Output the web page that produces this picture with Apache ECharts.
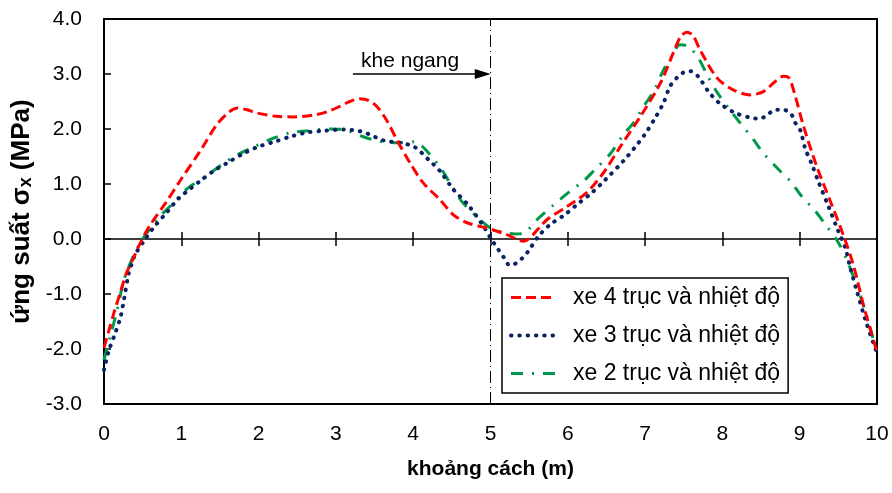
<!DOCTYPE html>
<html>
<head>
<meta charset="utf-8">
<script src="https://cdn.jsdelivr.net/npm/echarts@6/dist/echarts.min.js"></script>
<style>html,body{margin:0;padding:0;background:#fff;}#c{width:892px;height:493px;}</style>
</head>
<body>
<div id="c"></div>
<script>
// ---- data ----
var seriesNames = ['xe 4 trục và nhiệt độ', 'xe 3 trục và nhiệt độ', 'xe 2 trục và nhiệt độ'];
var yTickLabels = ['-3.0','-2.0','-1.0','0.0','1.0','2.0','3.0','4.0'];
var xTickLabels = ['0','1','2','3','4','5','6','7','8','9','10'];

var redX = [0, 0.06, 0.14, 0.21, 0.29, 0.37, 0.47, 0.6, 0.8, 0.98, 1.24, 1.46, 1.63, 1.73, 1.85, 1.98, 2.23, 2.45, 2.7, 2.9, 3.05, 3.18, 3.31, 3.42, 3.53, 3.66, 3.79, 3.96, 4.13, 4.35, 4.52, 4.69, 4.89, 5.0, 5.21, 5.43, 5.51, 5.73, 5.99, 6.24, 6.46, 6.68, 6.94, 7.2, 7.37, 7.46, 7.54, 7.62, 7.71, 7.93, 8.14, 8.36, 8.53, 8.68, 8.79, 8.86, 8.92, 9.05, 9.22, 9.39, 9.57, 9.7, 9.83, 10];
var redY = [-1.98, -1.68, -1.29, -0.98, -0.62, -0.38, -0.07, 0.26, 0.66, 1.05, 1.59, 2.08, 2.32, 2.38, 2.35, 2.29, 2.23, 2.22, 2.25, 2.32, 2.41, 2.5, 2.55, 2.52, 2.41, 2.15, 1.8, 1.38, 1.02, 0.71, 0.44, 0.3, 0.22, 0.18, 0.08, -0.04, 0.02, 0.35, 0.59, 0.84, 1.2, 1.68, 2.23, 2.84, 3.4, 3.68, 3.76, 3.7, 3.44, 2.93, 2.71, 2.62, 2.68, 2.86, 2.96, 2.93, 2.71, 2.05, 1.32, 0.71, 0.05, -0.5, -1.23, -2.05];

var navyX = [0, 0.06, 0.14, 0.21, 0.26, 0.32, 0.36, 0.4, 0.52, 0.66, 0.81, 0.96, 1.13, 1.24, 1.41, 1.59, 1.8, 1.98, 2.21, 2.43, 2.64, 2.86, 3.1, 3.31, 3.42, 3.62, 3.83, 4.02, 4.2, 4.35, 4.52, 4.71, 4.91, 5.0, 5.1, 5.17, 5.25, 5.32, 5.41, 5.49, 5.62, 5.77, 5.96, 6.14, 6.31, 6.48, 6.72, 6.87, 7.0, 7.13, 7.24, 7.32, 7.41, 7.5, 7.59, 7.69, 7.82, 7.97, 8.17, 8.38, 8.49, 8.6, 8.68, 8.79, 8.89, 8.94, 9.01, 9.07, 9.16, 9.24, 9.37, 9.5, 9.59, 9.65, 9.74, 9.85, 9.96, 10];
var navyY = [-2.38, -2.04, -1.73, -1.44, -1.09, -0.62, -0.45, -0.29, -0.03, 0.24, 0.48, 0.73, 0.93, 1.05, 1.23, 1.38, 1.55, 1.67, 1.77, 1.87, 1.94, 1.97, 1.99, 1.96, 1.91, 1.79, 1.75, 1.67, 1.44, 1.23, 0.9, 0.62, 0.23, 0.02, -0.19, -0.33, -0.48, -0.45, -0.35, -0.22, 0.05, 0.26, 0.44, 0.65, 0.84, 1.07, 1.42, 1.67, 1.91, 2.2, 2.48, 2.77, 2.93, 3.03, 3.05, 2.95, 2.68, 2.46, 2.29, 2.2, 2.19, 2.28, 2.35, 2.35, 2.27, 2.12, 1.97, 1.65, 1.35, 1.05, 0.6, 0.14, -0.16, -0.5, -0.95, -1.47, -1.92, -2.07];

var greenX = [0, 0.08, 0.16, 0.26, 0.34, 0.47, 0.6, 0.72, 0.85, 1.09, 1.31, 1.52, 1.72, 1.95, 2.15, 2.41, 2.65, 2.92, 3.1, 3.33, 3.55, 3.79, 4.02, 4.12, 4.22, 4.37, 4.5, 4.63, 4.82, 5.0, 5.17, 5.32, 5.45, 5.6, 5.81, 6.03, 6.2, 6.35, 6.55, 6.72, 6.85, 6.98, 7.11, 7.24, 7.35, 7.45, 7.56, 7.69, 7.8, 7.93, 8.08, 8.23, 8.4, 8.53, 8.73, 8.88, 9.03, 9.2, 9.35, 9.49, 9.61, 9.74, 9.87, 10];
var greenY = [-2.2, -1.77, -1.35, -0.74, -0.44, -0.07, 0.2, 0.41, 0.59, 0.93, 1.13, 1.35, 1.53, 1.68, 1.81, 1.93, 1.97, 2.0, 1.99, 1.87, 1.78, 1.75, 1.77, 1.68, 1.53, 1.26, 0.96, 0.68, 0.41, 0.2, 0.12, 0.09, 0.12, 0.35, 0.61, 0.87, 1.05, 1.26, 1.55, 1.9, 2.11, 2.41, 2.68, 3.08, 3.33, 3.53, 3.5, 3.29, 2.99, 2.67, 2.38, 2.11, 1.81, 1.56, 1.26, 1.05, 0.77, 0.51, 0.23, -0.04, -0.38, -0.86, -1.41, -2.08];

var jointX = [5];            // khe ngang position
var arrowFrom = [3.22, 3.0];
var arrowTo = [4.9, 3.0];
var annotText = 'khe ngang';
var annotPos = [3.96, 3.23];

function zip(xs, ys) { return xs.map(function (x, i) { return [x, ys[i]]; }); }

var FONT = 'Liberation Sans, Arial, sans-serif';
var chart = echarts.init(document.getElementById('c'), null, {renderer: 'canvas'});

var xBase = {type: 'value', min: 0, max: 10, interval: 1, gridIndex: 0};

chart.setOption({
  animation: false,
  backgroundColor: '#fff',
  textStyle: {fontFamily: FONT, color: '#000'},
  grid: {left: 104, right: 15, top: 19, bottom: 89, show: true, borderColor: '#000', borderWidth: 2,
         backgroundColor: 'transparent', containLabel: false, outerBoundsMode: 'none'},
  legend: {
    data: seriesNames,
    orient: 'vertical',
    left: 502, top: 278,
    itemWidth: 45, itemHeight: 14, itemGap: 15,
    padding: [8, 8, 8, 7],
    borderColor: '#000', borderWidth: 1.5,
    backgroundColor: '#fff',
    itemStyle: {color: 'rgba(0,0,0,0)', borderWidth: 0, opacity: 0},
    lineStyle: {width: 'inherit'},
    textStyle: {fontFamily: FONT, fontSize: 23, color: '#000', padding: [0, 0, 0, 12]}
  },
  xAxis: [
    Object.assign({}, xBase, {
      position: 'bottom',
      name: 'khoảng cách (m)', nameLocation: 'middle', nameGap: 55,
      nameTextStyle: {fontFamily: FONT, fontSize: 21, fontWeight: 'bold', color: '#000'},
      axisLine: {show: false, onZero: false},
      axisTick: {show: false},
      splitLine: {show: false},
      axisLabel: {fontFamily: FONT, fontSize: 21, color: '#000', margin: 20,
        formatter: function (v) { return xTickLabels[Math.round(v)]; }}
    }),
    Object.assign({}, xBase, {
      position: 'bottom',
      axisLine: {show: true, onZero: true, onZeroAxisIndex: 0, lineStyle: {color: '#000', width: 1.5}},
      axisTick: {show: true, inside: true, length: 7, lineStyle: {color: '#000', width: 1.5}},
      axisLabel: {show: false}, splitLine: {show: false}
    }),
    Object.assign({}, xBase, {
      position: 'top',
      axisLine: {show: false, onZero: true, onZeroAxisIndex: 0},
      axisTick: {show: true, inside: true, length: 7, lineStyle: {color: '#000', width: 1.5}},
      axisLabel: {show: false}, splitLine: {show: false}
    })
  ],
  yAxis: {
    type: 'value', min: -3, max: 4, interval: 1, position: 'left',
    name: '{a|ứng suất σ}{s|x}{a| (MPa)}', nameLocation: 'middle', nameGap: 64, nameRotate: 90,
    nameTextStyle: {
      fontFamily: FONT, fontSize: 26, fontWeight: 'bold', color: '#000',
      rich: {
        a: {fontFamily: FONT, fontSize: 26, fontWeight: 'bold', color: '#000', lineHeight: 26, verticalAlign: 'top'},
        s: {fontFamily: FONT, fontSize: 18, fontWeight: 'bold', color: '#000', lineHeight: 18, padding: [12, 0, 0, 0], verticalAlign: 'bottom'}
      }
    },
    axisLine: {show: false, onZero: false},
    axisTick: {show: true, inside: true, length: 7, lineStyle: {color: '#000', width: 1.5}},
    splitLine: {show: false},
    axisLabel: {fontFamily: FONT, fontSize: 21, color: '#000', margin: 22,
      formatter: function (v) { return yTickLabels[Math.round(v) + 3]; }}
  },
  series: [
    {
      name: seriesNames[0], type: 'line', xAxisIndex: 0, yAxisIndex: 0,
      data: zip(redX, redY), smooth: 0.3, symbol: 'none', z: 5,
      lineStyle: {color: '#FF0000', width: 3, type: [10, 5], cap: 'butt'},
      itemStyle: {color: '#FF0000'},
      markLine: {
        silent: true, animation: false,
        label: {show: false},
        data: [
          [{coord: [jointX[0], -3], symbol: 'none', lineStyle: {color: '#000', width: 1, type: [12, 4, 1, 4]}},
           {coord: [jointX[0], 4], symbol: 'none'}],
          [{coord: arrowFrom, symbol: 'none', lineStyle: {color: '#000', width: 1.5, type: 'solid'}},
           {coord: arrowTo, symbol: 'triangle', symbolSize: [10, 16]}]
        ]
      },
      markPoint: {
        silent: true, animation: false,
        symbol: 'circle', symbolSize: 0,
        data: [{coord: annotPos, value: annotText}],
        label: {show: true, position: 'inside', formatter: annotText, fontFamily: FONT, fontSize: 21, color: '#000'}
      }
    },
    {
      name: seriesNames[1], type: 'line', xAxisIndex: 0, yAxisIndex: 0,
      data: zip(navyX, navyY), smooth: 0.3, symbol: 'none', z: 4,
      lineStyle: {color: '#0B2265', width: 4, type: [0.5, 7.8], cap: 'round'},
      itemStyle: {color: '#0B2265'}
    },
    {
      name: seriesNames[2], type: 'line', xAxisIndex: 0, yAxisIndex: 0,
      data: zip(greenX, greenY), smooth: 0.3, symbol: 'none', z: 3,
      lineStyle: {color: '#00994C', width: 3, type: [12, 9, 2, 9], cap: 'butt'},
      itemStyle: {color: '#00994C'}
    }
  ]
});
</script>
</body>
</html>
